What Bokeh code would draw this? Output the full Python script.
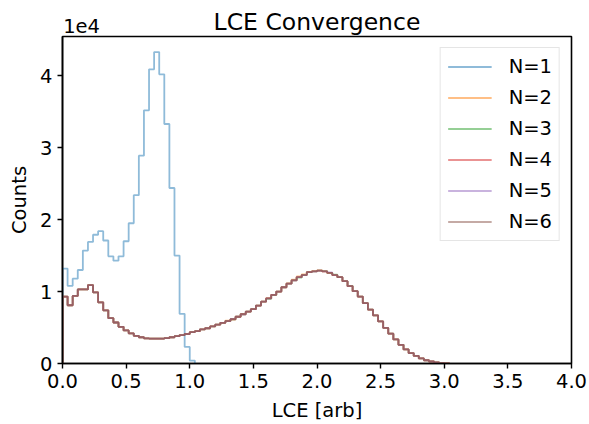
import numpy as np
from bokeh.plotting import figure
from bokeh.models import Range1d, FixedTicker, Legend, LegendItem, LinearAxis
from bokeh.embed import file_html
from bokeh.resources import INLINE

# ---- data (histogram counts, bin width 0.04 starting at 0) ----
bin_width = 0.04
n1_counts = [13200, 10800, 11800, 13000, 15700, 16900, 17900, 18400, 17100, 14900,
             14300, 14900, 17000, 19500, 23400, 28900, 35200, 40900, 43300, 40200,
             33300, 24400, 15000, 6900, 2300, 400]
n2_counts = [9300, 8100, 9400, 10300, 10300, 10900, 9900, 8500, 7400, 6300,
             5700, 5100, 4600, 4200, 3850, 3650, 3500, 3450, 3450, 3450,
             3520, 3650, 3800, 3950, 4100, 4350, 4500, 4750, 4900, 5150,
             5400, 5650, 5950, 6150, 6500, 6900, 7200, 7550, 8050, 8600,
             9100, 9550, 10000, 10600, 11150, 11650, 12100, 12400, 12750, 12850,
             12950, 12800, 12600, 12300, 12000, 11450, 10750, 10050, 9300, 8400,
             7500, 6700, 5850, 4950, 4150, 3350, 2600, 1950, 1450, 1050,
             700, 450, 280, 140, 50, 20]
n3_counts = [9300, 8100, 9400, 10300, 10300, 10900, 9900, 8500, 7400, 6300,
             5700, 5100, 4600, 4200, 3850, 3650, 3500, 3450, 3450, 3450,
             3520, 3650, 3800, 3950, 4100, 4350, 4500, 4750, 4900, 5150,
             5400, 5650, 5900, 6150, 6500, 6850, 7200, 7550, 8050, 8600,
             9000, 9500, 10000, 10600, 11100, 11550, 11950, 12300, 12700, 12800,
             12900, 12850, 12600, 12350, 12000, 11450, 10800, 10050, 9300, 8400,
             7500, 6700, 5850, 4950, 4150, 3350, 2600, 1950, 1450, 1050,
             700, 450, 280, 140, 50, 20]
n4_counts = [9300, 8100, 9400, 10300, 10300, 10900, 9900, 8500, 7400, 6300,
             5700, 5100, 4600, 4200, 3850, 3650, 3500, 3450, 3450, 3450,
             3520, 3650, 3800, 3950, 4100, 4350, 4500, 4750, 4900, 5150,
             5400, 5650, 5900, 6150, 6500, 6850, 7200, 7550, 8050, 8600,
             9050, 9550, 10000, 10600, 11100, 11550, 12000, 12300, 12700, 12800,
             12900, 12800, 12600, 12300, 12000, 11450, 10750, 10050, 9300, 8400,
             7500, 6700, 5850, 4950, 4150, 3350, 2600, 1950, 1450, 1050,
             700, 450, 280, 140, 50, 20]
n5_counts = [9300, 8100, 9400, 10300, 10300, 10900, 9900, 8500, 7400, 6300,
             5700, 5100, 4600, 4200, 3850, 3650, 3500, 3450, 3450, 3450,
             3520, 3650, 3800, 3950, 4100, 4350, 4500, 4750, 4900, 5150,
             5400, 5650, 5900, 6200, 6500, 6850, 7200, 7550, 8050, 8600,
             9050, 9550, 10000, 10600, 11100, 11550, 12000, 12300, 12700, 12800,
             12900, 12800, 12650, 12300, 12000, 11450, 10750, 10050, 9300, 8400,
             7500, 6700, 5850, 4950, 4150, 3350, 2600, 1950, 1450, 1050,
             700, 450, 280, 140, 50, 20]
n6_counts = [9300, 8100, 9400, 10300, 10300, 10900, 9900, 8500, 7400, 6300,
             5700, 5100, 4600, 4200, 3850, 3650, 3500, 3450, 3450, 3450,
             3520, 3650, 3800, 3950, 4100, 4350, 4500, 4750, 4900, 5150,
             5400, 5650, 5900, 6150, 6500, 6850, 7200, 7550, 8050, 8600,
             9050, 9550, 10000, 10600, 11100, 11550, 12000, 12300, 12700, 12800,
             12900, 12800, 12600, 12300, 12000, 11450, 10750, 10050, 9300, 8400,
             7500, 6700, 5850, 4950, 4150, 3350, 2600, 1950, 1450, 1050,
             700, 450, 280, 140, 50, 20]

series = [n1_counts, n2_counts, n3_counts, n4_counts, n5_counts, n6_counts]
labels = ["N=1", "N=2", "N=3", "N=4", "N=5", "N=6"]
colors = ["#1f77b4", "#ff7f0e", "#2ca02c", "#d62728", "#9467bd", "#8c564b"]

x_ticks = [0.0, 0.5, 1.0, 1.5, 2.0, 2.5, 3.0, 3.5, 4.0]
y_ticks = [0, 10000, 20000, 30000, 40000]
y_tick_labels = ["0", "1", "2", "3", "4"]
offset_text = "1e4"
title_text = "LCE Convergence"
x_max = 4.0
y_max = max(n1_counts) * 1.05

FONT = "DejaVu Sans"
TICK_FS = "19.5px"

W, H = 589, 424
BL, BR, BT, BB = 62, 18, 36, 59

p = figure(width=W, height=H, output_backend="svg", toolbar_location=None,
           x_range=Range1d(0, x_max), y_range=Range1d(0, y_max),
           min_border_left=BL, min_border_right=BR, min_border_top=BT, min_border_bottom=BB,
           title=None)
p.background_fill_color = "white"
p.border_fill_color = "white"
p.grid.visible = False
p.outline_line_color = "black"
p.outline_line_width = 1.6
p.outline_line_alpha = 1.0


def step_path(counts):
    edges = np.arange(len(counts) + 1) * bin_width
    xs = np.repeat(edges, 2)
    ys = np.concatenate([[0], np.repeat(np.asarray(counts, dtype=float), 2), [0]])
    return xs, ys


items = []
for counts, lab, col in zip(series, labels, colors):
    xs, ys = step_path(counts)
    r = p.line(xs, ys, line_color=col, line_alpha=0.5, line_width=1.8)
    items.append(LegendItem(label=lab, renderers=[r]))

for ax in (p.xaxis[0], p.yaxis[0]):
    ax.axis_line_color = "black"
    ax.axis_line_width = 1.6
    ax.major_tick_line_color = "black"
    ax.major_tick_line_width = 1.4
    ax.major_tick_out = 5
    ax.major_tick_in = 0
    ax.minor_tick_line_color = None
    ax.major_label_text_font = FONT
    ax.major_label_text_font_size = TICK_FS
    ax.major_label_text_color = "black"
    ax.axis_label_text_font = FONT
    ax.axis_label_text_font_size = TICK_FS
    ax.axis_label_text_font_style = "normal"
    ax.axis_label_text_color = "black"

p.xaxis.ticker = FixedTicker(ticks=x_ticks)
p.xaxis.major_label_overrides = {t: f"{t:.1f}" for t in x_ticks}
p.xaxis.axis_label = "LCE [arb]"
p.xaxis.major_label_standoff = 5
p.xaxis.axis_label_standoff = 8

p.yaxis.ticker = FixedTicker(ticks=y_ticks)
p.yaxis.major_label_overrides = {t: s for t, s in zip(y_ticks, y_tick_labels)}
p.yaxis.axis_label = "Counts"
p.yaxis.major_label_standoff = 5
p.yaxis.axis_label_standoff = 6

# top "axis" carrying the scale-offset text and the title
offset_pos = 0.15
top = LinearAxis(ticker=FixedTicker(ticks=[offset_pos]),
                 major_label_overrides={offset_pos: offset_text})
top.axis_line_color = None
top.major_tick_line_color = None
top.minor_tick_line_color = None
top.major_tick_out = 0
top.major_tick_in = 0
top.major_label_standoff = 4
top.major_label_text_font = FONT
top.major_label_text_font_size = TICK_FS
top.major_label_text_color = "black"
top.axis_label = title_text
top.axis_label_text_font = FONT
top.axis_label_text_font_size = "23.5px"
top.axis_label_text_font_style = "normal"
top.axis_label_text_color = "black"
top.axis_label_standoff = -20
p.add_layout(top, "above")

legend = Legend(items=items, location="top_right")
legend.margin = 11
legend.padding = 7
legend.spacing = 8
legend.glyph_width = 44
legend.glyph_height = 23
legend.label_height = 23
legend.label_standoff = 17
legend.label_text_font = FONT
legend.label_text_font_size = TICK_FS
legend.label_text_color = "black"
legend.border_line_color = "#cccccc"
legend.border_line_width = 1
legend.background_fill_alpha = 0.8
p.add_layout(legend)

open("out.html", "w").write(file_html(p, INLINE))
